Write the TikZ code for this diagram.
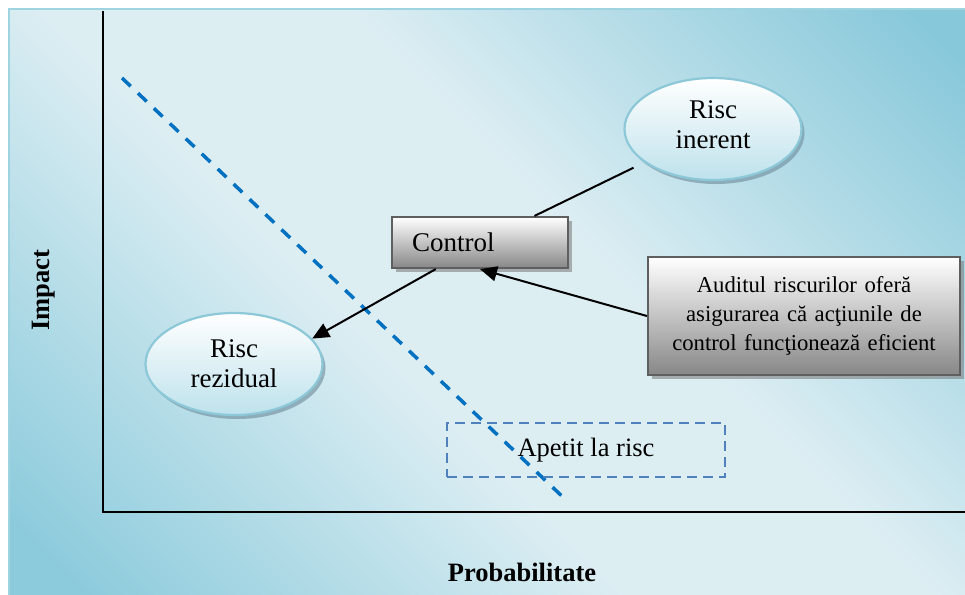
\documentclass[tikz,border=0pt]{standalone}
\usepackage{fontspec}
\setmainfont{Liberation Serif}
\usetikzlibrary{arrows.meta,shapes.geometric,shadows}
\definecolor{bgdark}{RGB}{140,203,220}
\definecolor{bgdarker}{RGB}{135,200,218}
\definecolor{bglight}{RGB}{221,238,243}
\definecolor{bdr}{RGB}{158,211,224}
\definecolor{ellborder}{RGB}{140,200,216}
\definecolor{ellbottom}{RGB}{190,226,236}
\definecolor{shadowblue}{RGB}{120,150,165}
\definecolor{boxgray}{RGB}{135,135,135}
\definecolor{boxedge}{RGB}{95,95,95}
\definecolor{dashblue}{RGB}{0,112,192}
\definecolor{apetblue}{RGB}{79,129,189}
\pgfdeclareverticalshading{bgshade}{100bp}{color(0bp)=(bgdark); color(18bp)=(bgdark); color(43bp)=(bglight); color(57bp)=(bglight); color(83bp)=(bgdarker); color(100bp)=(bgdarker)}
\begin{document}
\begin{tikzpicture}[x=1pt,y=-1pt,
  riskell/.style={ellipse, draw=ellborder, line width=2.2pt, top color=white, bottom color=ellbottom,
    minimum width=177pt, minimum height=102pt, inner sep=0pt, align=center,
    font=\fontsize{27}{30}\selectfont,
    drop shadow={shadow xshift=3pt, shadow yshift=-4pt, fill=shadowblue, opacity=0.7}},
  graybox/.style={rectangle, draw=boxedge, line width=2.2pt, top color=white, bottom color=boxgray,
    drop shadow={shadow xshift=4pt, shadow yshift=-4pt, fill=gray, opacity=0.6}},
  conn/.style={draw=black, line width=2pt},
  arr/.style={conn, -{Triangle[length=17pt,width=15pt]}},
  axislbl/.style={font=\fontsize{26.5}{30}\selectfont\bfseries}
]
\useasboundingbox (0,0) rectangle (965,594);
\fill[white] (0,0) rectangle (965,594);
\shade[shading=bgshade, shading angle=-45] (9,9) rectangle (968,597);
\draw[bdr, line width=2pt] (9,9) rectangle (968,597);

% axes
\coordinate (ytop) at (103,11);
\coordinate (origin) at (103,512);
\coordinate (xend) at (966,512);
\draw[line width=2.5pt] (ytop) -- (origin) -- (xend);

% appetite line
\coordinate (ls) at (122,78);
\coordinate (le) at (566,500);
\draw[dashblue, line width=3.5pt, dash pattern=on 12pt off 10pt] (ls) -- (le);

% nodes
\node[riskell, text depth=9pt] (inerent) at (713,129) {Risc\\inerent};
\node[riskell] (rezidual) at (234,364) {Risc\\rezidual};
\node[graybox, minimum width=176pt, minimum height=51pt, text width=136pt, inner xsep=20pt, inner ysep=0pt,
  align=left, font=\fontsize{27}{30}\selectfont] (control) at (480,242.5) {Control};
\node[graybox, minimum width=312pt, minimum height=118pt, text width=300pt, inner sep=0pt,
  align=center, font=\fontsize{22.7}{29}\selectfont] (audit) at (804,316)
  {Auditul riscurilor oferă\\asigurarea că acţiunile de\\control funcţionează eficient};
\node[draw=apetblue, line width=2.5pt, dash pattern=on 10pt off 6pt, minimum width=278pt, minimum height=54pt,
  inner sep=0pt, font=\fontsize{26.5}{30}\selectfont] (apetit) at (586,450) {Apetit la risc};

% connectors
\draw[conn, shorten <=12pt] (inerent) -- (control.26);
\draw[arr] (control.211) -- (rezidual.18);
\draw[arr] (audit.west) -- (control.south);

% axis labels
\node[axislbl, rotate=90] (impact) at (44,290) {Impact};
\node[axislbl] (prob) at (522,572) {Probabilitate};
\end{tikzpicture}
\end{document}
